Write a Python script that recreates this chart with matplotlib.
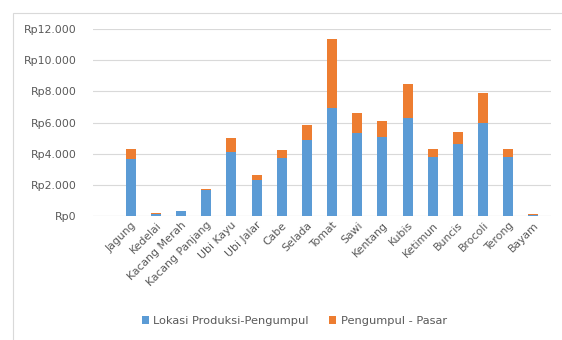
import matplotlib.pyplot as plt
from matplotlib.patches import Rectangle
from matplotlib.ticker import FuncFormatter

# komoditas dan biaya per segmen (Rp/kg)
komoditas = ['Jagung', 'Kedelai', 'Kacang Merah', 'Kacang Panjang', 'Ubi Kayu',
             'Ubi Jalar', 'Cabe', 'Selada', 'Tomat', 'Sawi', 'Kentang', 'Kubis',
             'Ketimun', 'Buncis', 'Brocoli', 'Terong', 'Bayam']
produksi_pengumpul = [3650, 150, 300, 1700, 4100, 2300, 3700, 4850, 6900,
                      5300, 5100, 6300, 3800, 4650, 6000, 3800, 80]
pengumpul_pasar = [650, 50, 50, 50, 900, 350, 550, 1000, 4450,
                   1300, 1000, 2150, 500, 750, 1900, 500, 30]
y_ticks = [0, 2000, 4000, 6000, 8000, 10000, 12000]

blue = '#5B9BD5'
orange = '#ED7D31'
grey = '#595959'

fig = plt.figure(figsize=(5.62, 3.4), dpi=100)
ax = fig.add_axes([0.1655, 0.3647, 0.815, 0.55])

x = list(range(len(komoditas)))
ax.bar(x, produksi_pengumpul, width=0.4, color=blue, zorder=3,
       label='Lokasi Produksi-Pengumpul')
ax.bar(x, pengumpul_pasar, width=0.4, bottom=produksi_pengumpul, color=orange,
       zorder=3, label='Pengumpul - Pasar')

ax.set_xlim(-1.5, len(komoditas) - 0.3)
ax.set_ylim(0, 12000)
ax.set_yticks(y_ticks)
ax.yaxis.set_major_formatter(FuncFormatter(lambda v, p: 'Rp' + f'{int(v):,}'.replace(',', '.')))
ax.grid(axis='y', color='#D9D9D9', linewidth=0.8, zorder=0)
for s in ax.spines.values():
    s.set_visible(False)
ax.axhline(0, color='#D9D9D9', linewidth=0.8, zorder=1)
ax.tick_params(axis='both', length=0, colors=grey, labelsize=7.8)
ax.tick_params(axis='y', pad=12)
ax.tick_params(axis='x', pad=3)

ax.set_xticks(x)
ax.set_xticklabels(komoditas, rotation=45, ha='right', rotation_mode='anchor')

ax.legend(loc='upper center', bbox_to_anchor=(0.44, -0.48), ncol=2, frameon=False,
          fontsize=8.2, handlelength=0.6, handleheight=0.6, handletextpad=0.4,
          columnspacing=1.8, labelcolor=grey)

# bingkai grafik (kanan dan bawah terpotong)
fig.patches.append(Rectangle((0.023, -0.05), 1.05, 0.012 + 1.0, transform=fig.transFigure,
                             fill=False, edgecolor='#D9D9D9', linewidth=0.8))

fig.savefig('out.png', dpi=100)
